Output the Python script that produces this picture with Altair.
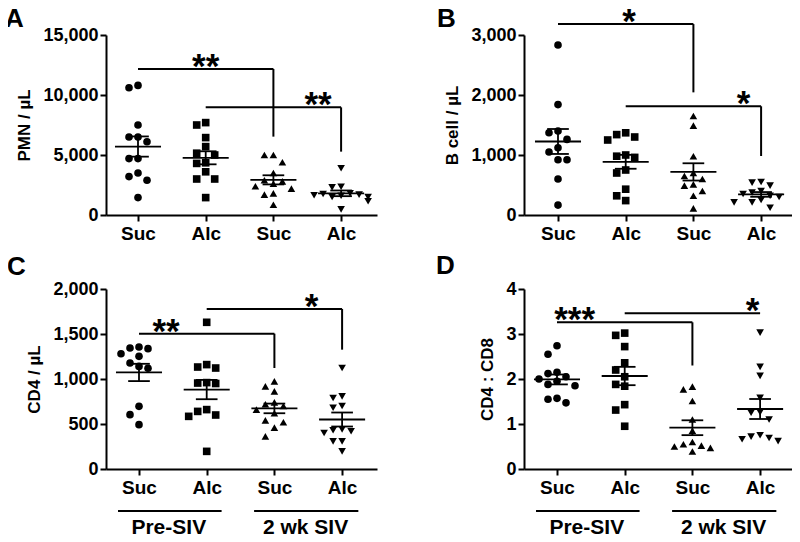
import json
import altair as alt
import pandas as pd

# ---------------- data ----------------
CATS = ["Suc", "Alc", "Suc", "Alc"]
PERIODS = ["Pre-SIV", "2 wk SIV"]
SHAPES = ["circle", "square", "triangle-up", "triangle-down"]

pmn_suc_pre = [10800, 10600, 7500, 6500, 6500, 6100, 4700, 4700, 3500, 3200, 2900, 1450]
pmn_alc_pre = [7700, 7500, 6450, 5700, 5150, 5000, 4350, 4300, 3600, 3000, 3000, 1450]
pmn_suc_siv = [5000, 5000, 4400, 3500, 2900, 2800, 2600, 2400, 2200, 1800, 1700, 850]
pmn_alc_siv = [3900, 2350, 2300, 1800, 1750, 1700, 1650, 1600, 1500, 1500, 1150, 470]

b_suc_pre = [2834, 1840, 1400, 1370, 1260, 1120, 1050, 920, 920, 600, 165]
b_alc_pre = [1370, 1340, 1300, 1250, 1000, 980, 960, 750, 700, 430, 320, 240]
b_suc_siv = [1650, 1490, 980, 700, 650, 600, 510, 490, 400, 320, 110]
b_alc_siv = [550, 540, 490, 400, 375, 350, 320, 300, 250, 210, 210, 120]

cd4_suc_pre = [1356, 1344, 1337, 1281, 1252, 1178, 1140, 1120, 696, 604, 493]
cd4_alc_pre = [1630, 1160, 1133, 1122, 960, 955, 950, 660, 640, 600, 585, 196]
cd4_suc_siv = [974, 918, 863, 740, 720, 700, 660, 620, 540, 520, 460, 363]
cd4_alc_siv = [1122, 807, 789, 700, 680, 440, 430, 420, 400, 307, 307, 196]

ratio_suc_pre = [2.74, 2.55, 2.15, 2.12, 2.05, 2.0, 1.95, 1.88, 1.85, 1.57, 1.55, 1.47]
ratio_alc_pre = [3.02, 2.97, 2.72, 2.36, 2.20, 2.05, 1.88, 1.84, 1.43, 1.31, 0.95]
ratio_suc_siv = [1.83, 1.77, 1.51, 1.10, 0.85, 0.60, 0.55, 0.52, 0.50, 0.47, 0.39]
ratio_alc_siv = [3.03, 2.27, 2.07, 1.58, 1.26, 1.25, 1.10, 0.75, 0.72, 0.69, 0.66, 0.62]

# significance brackets: (from group, to group, bar level, drop-to level, stars, star x)
brk_a = [(1, 3, 12170, 6530, "**", 2.0), (2, 4, 8970, 5280, "**", 3.66)]
brk_b = [(1, 3, 3182, 2044, "*", 2.05), (2, 4, 1812, 983, "*", 3.74)]
brk_c = [(1, 3, 1504, 1122, "**", 1.40), (2, 4, 1778, 1326, "*", 3.55)]
brk_d = [(1, 3, 3.26, 2.30, "***", 1.26), (2, 4, 3.46, 3.46, "*", 3.89)]

FONT = "Liberation Sans"
H = 180
STEP = 67.7


def spread(vals, ymax):
    """simple beeswarm offsets (in group units) so dots do not overlap"""
    d = 9.0
    placed = []
    res = [0.0] * len(vals)
    order = sorted(range(len(vals)), key=lambda i: -vals[i])
    for i in order:
        ypx = vals[i] / ymax * H
        xo = 0
        for c in [0, -1, 1, -2, 2, -3, 3]:
            xo = c * d
            if all((xo - px) ** 2 + (ypx - py) ** 2 >= d * d for px, py in placed):
                break
        placed.append((xo, ypx))
        res[i] = xo / STEP
    return res


def panel(groups, ymax, ticks, ytitle, fmt, brackets, letter, width, lead,
          letter_xy, periods=False):
    x0 = 1 - lead / STEP
    x1 = x0 + width / STEP
    rows = []
    for gi, vals in enumerate(groups):
        offs = spread(vals, ymax)
        for v, o in zip(vals, offs):
            rows.append({"g": gi + 1, "value": v, "xp": gi + 1 + o, "shape": SHAPES[gi]})
    df = pd.DataFrame(rows)

    xscale = alt.Scale(domain=[x0, x1], nice=False, zero=False)
    yscale = alt.Scale(domain=[0, ymax], nice=False)
    xaxis = alt.Axis(values=[1, 2, 3, 4], title=None, grid=False,
                     labelExpr=json.dumps(CATS) + "[datum.value - 1]",
                     labelFontSize=19, labelPadding=3)
    yaxis = alt.Axis(values=ticks, title=ytitle, format=fmt, grid=False, titlePadding=9)

    base = alt.Chart(df)
    pts = base.mark_point(filled=True, size=58, color="black", opacity=1).encode(
        x=alt.X("xp:Q", scale=xscale, axis=xaxis),
        y=alt.Y("value:Q", scale=yscale, axis=yaxis),
        shape=alt.Shape("shape:N", scale=alt.Scale(domain=SHAPES, range=SHAPES), legend=None),
    )

    stats = base.transform_aggregate(
        m="mean(value)", sd="stdev(value)", n="count()", groupby=["g"]
    ).transform_calculate(
        lo="datum.m - datum.sd / sqrt(datum.n)",
        hi="datum.m + datum.sd / sqrt(datum.n)",
        xl="datum.g - 0.34", xr="datum.g + 0.34",
        cl="datum.g - 0.16", cr="datum.g + 0.16",
    )
    rule = dict(color="black", strokeWidth=1.8)
    mean_l = stats.mark_rule(**rule).encode(x="xl:Q", x2="xr:Q", y="m:Q")
    hi_l = stats.mark_rule(**rule).encode(x="cl:Q", x2="cr:Q", y="hi:Q")
    lo_l = stats.mark_rule(**rule).encode(x="cl:Q", x2="cr:Q", y="lo:Q")
    vert = stats.mark_rule(**rule).encode(x="g:Q", y="lo:Q", y2="hi:Q")

    bdf = pd.DataFrame([{"a": a, "b": b, "top": t, "drop": dr, "s": s, "sx": sx}
                        for a, b, t, dr, s, sx in brackets])
    bb = alt.Chart(bdf)
    hbar = bb.mark_rule(color="black", strokeWidth=2).encode(x="a:Q", x2="b:Q", y="top:Q")
    vbar = bb.mark_rule(color="black", strokeWidth=2).encode(x="b:Q", y="top:Q", y2="drop:Q")
    stars = bb.mark_text(font=FONT, fontWeight="bold", fontSize=35, baseline="alphabetic",
                         dy=9, color="black").encode(x="sx:Q", y="top:Q", text="s:N")

    lt = alt.Chart(pd.DataFrame({"t": [letter]})).mark_text(
        font=FONT, fontWeight="bold", fontSize=26, align="left", baseline="alphabetic",
        color="black").encode(x=alt.value(letter_xy[0]), y=alt.value(letter_xy[1]), text="t:N")

    layers = [pts, mean_l, hi_l, lo_l, vert, hbar, vbar, stars, lt]
    if periods:
        pdf = pd.DataFrame({"p": PERIODS, "a": [0.69, 2.70], "b": [2.22, 4.24],
                            "c": [1.44, 3.46]})
        pc = alt.Chart(pdf)
        layers.append(pc.mark_rule(color="black", strokeWidth=2).encode(
            x="a:Q", x2="b:Q", y=alt.value(222)))
        layers.append(pc.mark_text(font=FONT, fontWeight="bold", fontSize=21,
                                   baseline="middle", color="black").encode(
            x="c:Q", y=alt.value(239), text="p:N"))
    return alt.layer(*layers).properties(width=width, height=H)


A = panel([pmn_suc_pre, pmn_alc_pre, pmn_suc_siv, pmn_alc_siv], 15000,
          [0, 5000, 10000, 15000], "PMN / µL", ",.0f", brk_a, "A", 271, 32, (-101, -8))
B = panel([b_suc_pre, b_alc_pre, b_suc_siv, b_alc_siv], 3000,
          [0, 1000, 2000, 3000], "B cell / µL", ",.0f", brk_b, "B", 271, 34, (-87, -8))
C = panel([cd4_suc_pre, cd4_alc_pre, cd4_suc_siv, cd4_alc_siv], 2000,
          [0, 500, 1000, 1500, 2000], "CD4 / µL", ",.0f", brk_c, "C", 271, 33, (-99, -14),
          periods=True)
D = panel([ratio_suc_pre, ratio_alc_pre, ratio_suc_siv, ratio_alc_siv], 4,
          [0, 1, 2, 3, 4], "CD4 : CD8", ".0f", brk_d, "D", 271, 33, (-88, -15), periods=True)

chart = alt.concat(
    A, B, C, D, columns=2, spacing={"row": 74, "column": 147}, bounds="flush",
).configure_view(stroke=None).configure_axis(
    domainColor="black", domainWidth=2, tickColor="black", tickWidth=2, tickSize=6,
    labelFont=FONT, labelFontWeight="bold", labelFontSize=18, labelColor="black",
    titleFont=FONT, titleFontWeight="bold", titleFontSize=17, titleColor="black",
).properties(
    autosize=alt.AutoSizeParams(type="none"),
    padding={"left": 98, "top": 27, "right": 686, "bottom": 500},
)

chart.save("out.html", embed_options={"renderer": "svg", "actions": False})
